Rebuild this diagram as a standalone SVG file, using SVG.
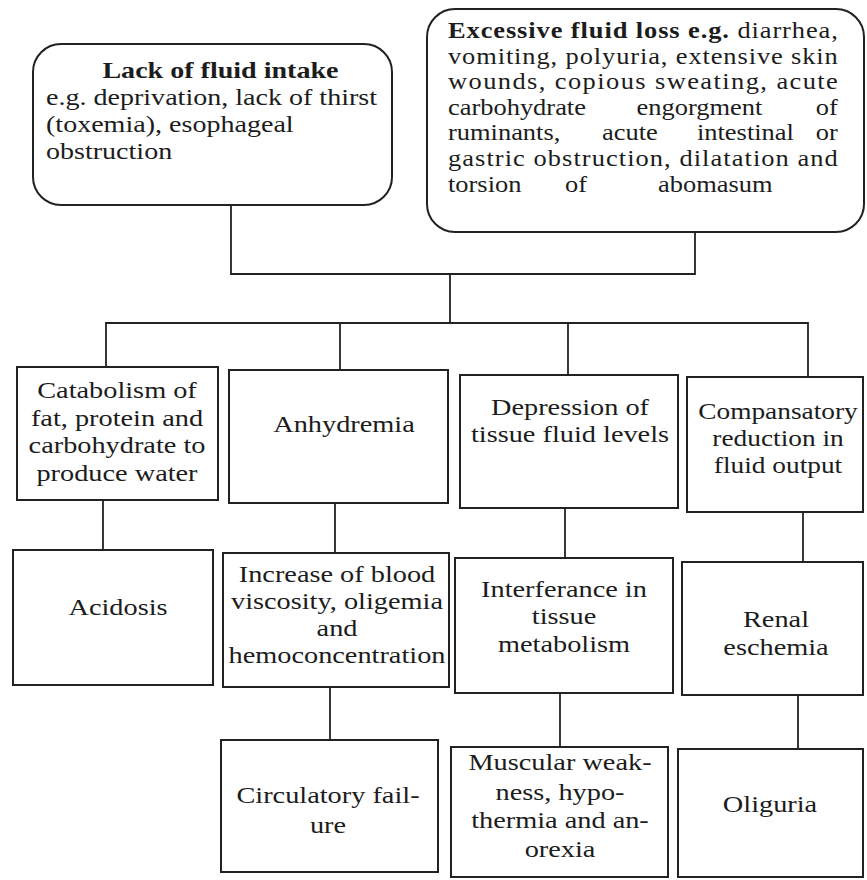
<svg xmlns="http://www.w3.org/2000/svg" width="867" height="880" viewBox="0 0 867 880">
  <style>
    .box { fill: #ffffff; stroke: #222222; stroke-width: 2; }
    .wire { fill: none; stroke: #222222; stroke-width: 1.8; }
    text { font-family: "Liberation Serif", "Times New Roman", serif; font-size: 24px; fill: #1c1c1c; }
    .top text { font-size: 23px; }
    .c { text-anchor: middle; }
    .e { text-anchor: end; }
    .b { font-weight: bold; }
  </style>
  <rect x="0" y="0" width="867" height="880" fill="#ffffff"/>

  <!-- connectors -->
  <g id="connectors">
    <path class="wire" d="M231 205 V274 H695 V232"/>
    <path class="wire" d="M450 274 V323"/>
    <path class="wire" d="M106 367 V323 H808 V377"/>
    <path class="wire" d="M340 323 V370"/>
    <path class="wire" d="M568 323 V375"/>
    <path class="wire" d="M103 500 V550"/>
    <path class="wire" d="M335 503 V553"/>
    <path class="wire" d="M565 508 V558"/>
    <path class="wire" d="M803 512 V562"/>
    <path class="wire" d="M330 687 V740"/>
    <path class="wire" d="M560 693 V747"/>
    <path class="wire" d="M798 695 V749"/>
  </g>

  <!-- causes -->
  <g id="lack-of-intake" class="top">
    <rect class="box" x="33" y="44" width="359" height="161" rx="28"/>
    <g transform="translate(46 0) scale(1.22 1)">
      <text class="c b" x="143" y="78">Lack of fluid intake</text>
      <text x="0" y="105">e.g. deprivation, lack of thirst</text>
      <text x="0" y="132">(toxemia), esophageal</text>
      <text x="0" y="159">obstruction</text>
    </g>
  </g>

  <g id="fluid-loss" class="top">
    <rect class="box" x="427" y="9" width="437" height="223" rx="28"/>
    <g transform="translate(448 0) scale(1.15 1)">
      <text x="0" y="38" textLength="339" lengthAdjust="spacing"><tspan class="b">Excessive fluid loss e.g.</tspan> diarrhea,</text>
      <text x="0" y="63.6" textLength="339" lengthAdjust="spacing">vomiting, polyuria, extensive skin</text>
      <text x="0" y="89.2" textLength="339" lengthAdjust="spacing">wounds, copious sweating, acute</text>
      <text x="0" y="114.8">carbohydrate<tspan x="164">engorgment</tspan><tspan class="e" x="339">of</tspan></text>
      <text x="0" y="140.4">ruminants,<tspan x="134">acute</tspan><tspan x="216.5">intestinal</tspan><tspan class="e" x="339">or</tspan></text>
      <text x="0" y="166" textLength="339" lengthAdjust="spacing">gastric obstruction, dilatation and</text>
      <text x="0" y="191.6">torsion<tspan x="101.7">of</tspan><tspan x="182.6">abomasum</tspan></text>
    </g>
  </g>

  <!-- direct effects -->
  <g id="catabolism">
    <rect class="box" x="17" y="367" width="201" height="133"/>
    <g transform="translate(117 0) scale(1.18 1)">
      <text class="c" y="398">Catabolism of</text>
      <text class="c" y="426">fat, protein and</text>
      <text class="c" y="453">carbohydrate to</text>
      <text class="c" y="481">produce water</text>
    </g>
  </g>

  <g id="anhydremia">
    <rect class="box" x="229" y="370" width="219" height="133"/>
    <g transform="translate(344 0) scale(1.18 1)">
      <text class="c" y="432">Anhydremia</text>
    </g>
  </g>

  <g id="tissue-fluid">
    <rect class="box" x="460" y="375" width="218" height="133"/>
    <g transform="translate(570 0) scale(1.18 1)">
      <text class="c" y="415">Depression of</text>
      <text class="c" y="442">tissue fluid levels</text>
    </g>
  </g>

  <g id="reduced-output">
    <rect class="box" x="687" y="377" width="176" height="135"/>
    <g transform="translate(778 0) scale(1.14 1)">
      <text class="c" y="419">Compansatory</text>
      <text class="c" y="446">reduction in</text>
      <text class="c" y="473">fluid output</text>
    </g>
  </g>

  <!-- secondary effects -->
  <g id="acidosis">
    <rect class="box" x="13" y="550" width="200" height="135"/>
    <g transform="translate(118 0) scale(1.18 1)">
      <text class="c" y="615">Acidosis</text>
    </g>
  </g>

  <g id="blood-viscosity">
    <rect class="box" x="223" y="553" width="226" height="134"/>
    <g transform="translate(337 0) scale(1.18 1)">
      <text class="c" y="582">Increase of blood</text>
      <text class="c" y="609">viscosity, oligemia</text>
      <text class="c" y="636">and</text>
      <text class="c" y="663">hemoconcentration</text>
    </g>
  </g>

  <g id="tissue-metabolism">
    <rect class="box" x="455" y="558" width="218" height="135"/>
    <g transform="translate(564 0) scale(1.18 1)">
      <text class="c" y="597">Interferance in</text>
      <text class="c" y="624">tissue</text>
      <text class="c" y="652">metabolism</text>
    </g>
  </g>

  <g id="renal-eschemia">
    <rect class="box" x="682" y="562" width="181" height="133"/>
    <g transform="translate(776 0) scale(1.18 1)">
      <text class="c" y="627">Renal</text>
      <text class="c" y="655">eschemia</text>
    </g>
  </g>

  <!-- outcomes -->
  <g id="circulatory-failure">
    <rect class="box" x="221" y="740" width="217" height="132"/>
    <g transform="translate(328 0) scale(1.18 1)">
      <text class="c" y="803">Circulatory fail-</text>
      <text class="c" y="833">ure</text>
    </g>
  </g>

  <g id="muscular-weakness">
    <rect class="box" x="451" y="747" width="217" height="130"/>
    <g transform="translate(560 0) scale(1.18 1)">
      <text class="c" y="770">Muscular weak-</text>
      <text class="c" y="800">ness, hypo-</text>
      <text class="c" y="828">thermia and an-</text>
      <text class="c" y="857">orexia</text>
    </g>
  </g>

  <g id="oliguria">
    <rect class="box" x="678" y="749" width="185" height="128"/>
    <g transform="translate(770 0) scale(1.18 1)">
      <text class="c" y="812">Oliguria</text>
    </g>
  </g>
</svg>
